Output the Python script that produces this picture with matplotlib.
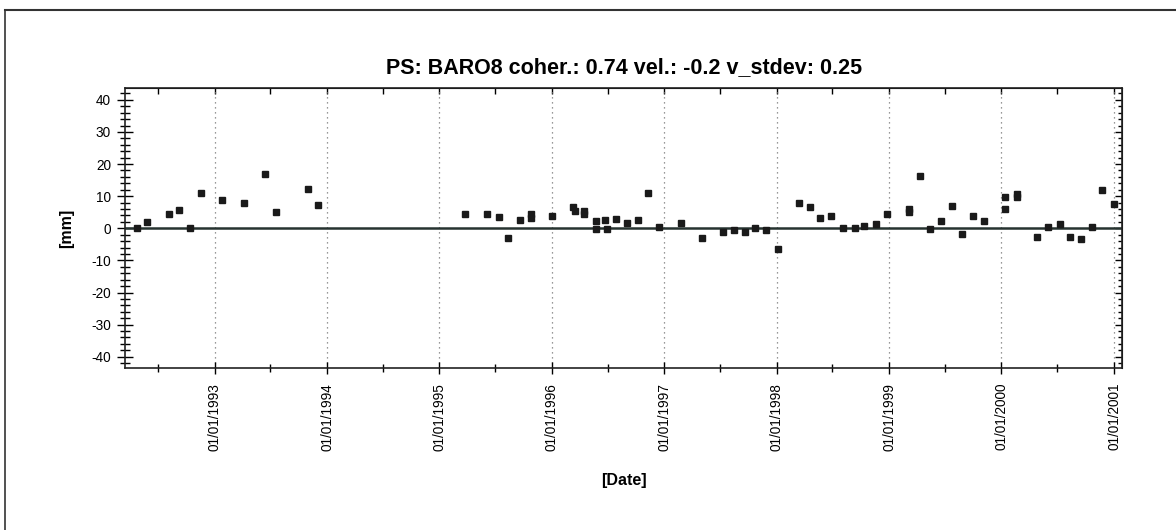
import matplotlib
matplotlib.use("Agg")
import matplotlib.pyplot as plt
import matplotlib.dates as mdates
from matplotlib.lines import Line2D
from datetime import datetime

plt.rcParams['font.family'] = ['Liberation Sans', 'DejaVu Sans']
plt.rcParams['axes.unicode_minus'] = False

# acquisition dates and displacement [mm]
dates = [
    "1992-04-22", "1992-05-27", "1992-08-07", "1992-09-06", "1992-10-12", "1992-11-18",
    "1993-01-25", "1993-04-06", "1993-06-13", "1993-07-18", "1993-10-30", "1993-12-01",
    "1995-03-24", "1995-06-06", "1995-07-13", "1995-08-13", "1995-09-19", "1995-10-26",
    "1995-10-26", "1996-01-03", "1996-03-10", "1996-03-15", "1996-04-15", "1996-04-15",
    "1996-05-23", "1996-05-23", "1996-06-22", "1996-06-27", "1996-07-29", "1996-09-02",
    "1996-10-07", "1996-11-09", "1996-12-14", "1997-02-24", "1997-05-02", "1997-07-10",
    "1997-08-15", "1997-09-21", "1997-10-24", "1997-11-28", "1998-01-05", "1998-03-16",
    "1998-04-20", "1998-05-23", "1998-06-28", "1998-08-05", "1998-09-11", "1998-10-13",
    "1998-11-19", "1998-12-26", "1999-03-06", "1999-03-06", "1999-04-13", "1999-05-13",
    "1999-06-18", "1999-07-25", "1999-08-25", "1999-10-02", "1999-11-07", "2000-01-14",
    "2000-01-14", "2000-02-20", "2000-02-20", "2000-04-27", "2000-06-02", "2000-07-09",
    "2000-08-10", "2000-09-15", "2000-10-22", "2000-11-23", "2000-12-31",
]
disp = [
    0.0, 1.9, 4.5, 5.7, 0.0, 10.9,
    8.7, 7.9, 17.0, 5.2, 12.1, 7.3,
    4.6, 4.6, 3.6, -2.9, 2.7, 4.5,
    3.1, 3.8, 6.5, 5.4, 5.4, 4.5,
    2.2, -0.3, 2.6, -0.3, 3.0, 1.7,
    2.6, 10.9, 0.3, 1.7, -3.1, -1.1,
    -0.5, -1.1, 0.2, -0.5, -6.6, 8.0,
    6.7, 3.2, 3.7, 0.1, 0.1, 0.6,
    1.4, 4.4, 6.1, 5.0, 16.2, -0.3,
    2.3, 7.0, -1.7, 3.9, 2.3, 9.8,
    6.1, 10.7, 9.8, -2.6, 0.5, 1.3,
    -2.6, -3.3, 0.5, 11.8, 7.5,
]

title = "PS: BARO8 coher.: 0.74 vel.: -0.2 v_stdev: 0.25"

x = [datetime.strptime(d, "%Y-%m-%d") for d in dates]

fig = plt.figure(figsize=(11.76, 5.30), dpi=100)
ax = fig.add_axes([0.1067, 0.3051, 0.8474, 0.5283])

ax.axhline(0, color='#263330', lw=1.8, zorder=2)
ax.plot(x, disp, 's', color='#1a1a1a', markersize=3.8, zorder=3)

ax.set_xlim(datetime(1992, 3, 17), datetime(2001, 1, 27))
ax.set_ylim(-43.6, 43.6)

ax.xaxis.set_major_locator(mdates.YearLocator())
ax.xaxis.set_minor_locator(mdates.MonthLocator(bymonth=7))
ax.xaxis.set_major_formatter(mdates.DateFormatter("%d/%m/%Y"))
ax.set_yticks(range(-40, 41, 10))
ax.set_yticks(range(-42, 43, 2), minor=True)

ax.grid(axis='x', which='major', color='#777777', linestyle=(0, (1, 3)), lw=0.9)

ax.tick_params(axis='x', which='major', direction='inout', length=9, width=1,
               labelsize=9.8, labelrotation=90, pad=6)
ax.tick_params(axis='x', which='minor', direction='inout', length=6, width=1)
ax.tick_params(axis='y', which='major', direction='inout', length=11, width=1,
               labelsize=9.8, pad=5)
ax.tick_params(axis='y', which='minor', direction='inout', length=7, width=1)

# inward ticks on the top and right edges
top = ax.secondary_xaxis('top')
top.xaxis.set_major_locator(mdates.YearLocator())
top.xaxis.set_minor_locator(mdates.MonthLocator(bymonth=7))
top.tick_params(which='both', direction='in', length=4, width=1, labeltop=False)
right = ax.secondary_yaxis('right')
right.set_yticks(range(-40, 41, 10))
right.set_yticks(range(-42, 43, 2), minor=True)
right.tick_params(which='major', direction='in', length=5, width=1, labelright=False)
right.tick_params(which='minor', direction='in', length=3, width=1)

for s in ax.spines.values():
    s.set_linewidth(1.2)
    s.set_color('#222222')

ax.set_title(title, fontsize=15.5, fontweight='bold', pad=11)
ax.set_xlabel("[Date]", fontsize=11.5, fontweight='bold', labelpad=16)
ax.set_ylabel("[mm]", fontsize=11.5, fontweight='bold', labelpad=12)

# outer frame of the page
fig.add_artist(Line2D([5 / 1176, 1], [1 - 10 / 530, 1 - 10 / 530], color='#333333', lw=1.5))
fig.add_artist(Line2D([5 / 1176, 5 / 1176], [0, 1 - 10 / 530], color='#333333', lw=1.2))

fig.savefig("out.png", dpi=100)
